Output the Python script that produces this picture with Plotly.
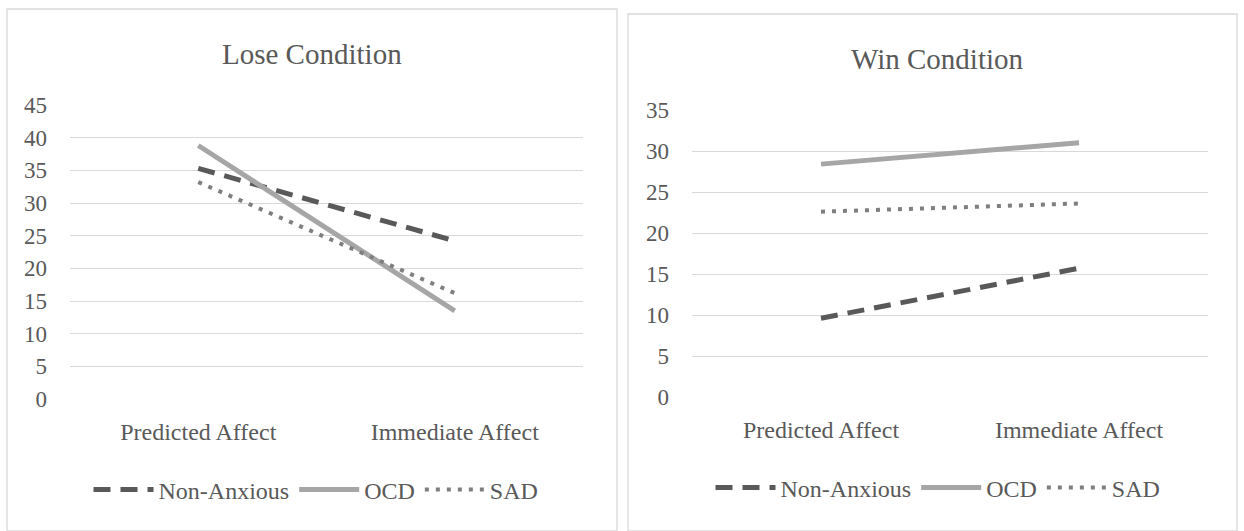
import plotly.graph_objects as go

categories = ["Predicted Affect", "Immediate Affect"]
series_names = ["Non-Anxious", "OCD", "SAD"]

lose_non_anxious = [35.3, 24.2]
lose_ocd = [38.8, 13.5]
lose_sad = [33.2, 16.2]

win_non_anxious = [9.6, 15.7]
win_ocd = [28.4, 31.0]
win_sad = [22.6, 23.6]

lose_ticks = [0, 5, 10, 15, 20, 25, 30, 35, 40, 45]
win_ticks = [0, 5, 10, 15, 20, 25, 30, 35]

W, H = 1244, 531
FONT = "Liberation Serif, Times New Roman, serif"
TXT = "#595959"

styles = {
    "Non-Anxious": dict(color="#595959", width=5, dash="17px,10px"),
    "OCD": dict(color="#a6a6a6", width=5, dash="solid"),
    "SAD": dict(color="#7f7f7f", width=4, dash="4px,7px"),
}

fig = go.Figure()

for name, vals in zip(series_names, [lose_non_anxious, lose_ocd, lose_sad]):
    fig.add_trace(go.Scatter(x=categories, y=vals, mode="lines", name=name,
                             line=styles[name], xaxis="x", yaxis="y",
                             legend="legend"))
for name, vals in zip(series_names, [win_non_anxious, win_ocd, win_sad]):
    fig.add_trace(go.Scatter(x=categories, y=vals, mode="lines", name=name,
                             line=styles[name], xaxis="x2", yaxis="y2",
                             legend="legend2"))

def px(x):
    return x / W

def py(y):
    return 1 - y / H

xaxis_common = dict(showline=False, zeroline=False, ticks="", automargin=False,
                    type="category", range=[-0.5, 1.5], showgrid=False,
                    ticklabelstandoff=16,
                    tickfont=dict(family=FONT, size=24, color=TXT))
yaxis_common = dict(showline=False, zeroline=False, ticks="", automargin=False,
                    showgrid=True, gridcolor="#d9d9d9", gridwidth=1.3,
                    ticklabelstandoff=22,
                    tickfont=dict(family=FONT, size=23, color=TXT))

legend_font = dict(family=FONT, size=24, color=TXT)

fig.update_layout(
    template="none",
    width=W, height=H,
    margin=dict(l=0, r=0, t=0, b=0, autoexpand=False),
    paper_bgcolor="white", plot_bgcolor="white",
    font=dict(family=FONT, color=TXT),
    xaxis=dict(domain=[px(70), px(583)], anchor="y", **xaxis_common),
    yaxis=dict(domain=[py(399), py(105)], range=[0, 45], tickvals=lose_ticks,
               anchor="x", **yaxis_common),
    xaxis2=dict(domain=[px(692), px(1208)], anchor="y2", **xaxis_common),
    yaxis2=dict(domain=[py(397), py(110)], range=[0, 35], tickvals=win_ticks,
                anchor="x2", **yaxis_common),
    legend=dict(orientation="h", x=px(316), y=py(490), xanchor="center",
                yanchor="middle", font=legend_font, bgcolor="rgba(0,0,0,0)",
                itemwidth=60),
    legend2=dict(orientation="h", x=px(938), y=py(488), xanchor="center",
                 yanchor="middle", font=legend_font, bgcolor="rgba(0,0,0,0)",
                 itemwidth=60),
    shapes=[
        dict(type="rect", xref="paper", yref="paper", x0=px(7), x1=px(617),
             y0=py(531), y1=py(9), line=dict(color="#d9d9d9", width=1.3)),
        dict(type="rect", xref="paper", yref="paper", x0=px(628), x1=px(1237),
             y0=py(531), y1=py(14), line=dict(color="#d9d9d9", width=1.3)),
    ],
    annotations=[
        dict(text="Lose Condition", xref="paper", yref="paper", x=px(312),
             y=py(54), xanchor="center", yanchor="middle", showarrow=False,
             font=dict(family=FONT, size=29, color=TXT)),
        dict(text="Win Condition", xref="paper", yref="paper", x=px(937),
             y=py(59), xanchor="center", yanchor="middle", showarrow=False,
             font=dict(family=FONT, size=29, color=TXT)),
    ],
)

fig.write_html("out.html")
